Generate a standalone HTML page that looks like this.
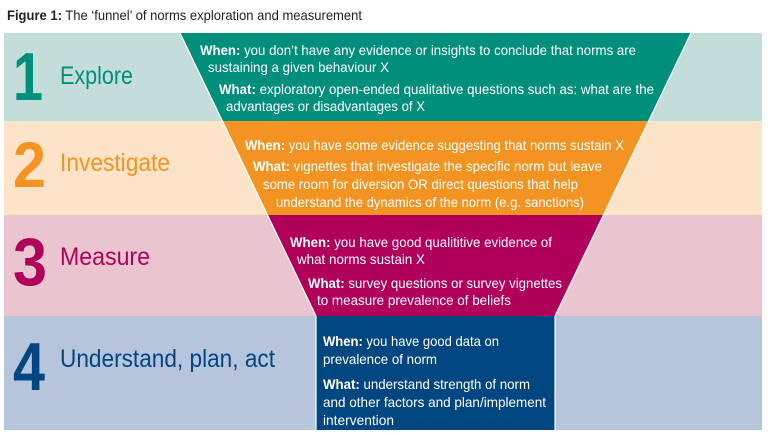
<!DOCTYPE html>
<html><head><meta charset="utf-8"><style>
html,body{margin:0;padding:0;background:#fff;width:772px;height:435px;overflow:hidden}
svg{display:block}
text{font-family:"Liberation Sans Narrow","Liberation Sans",sans-serif}
.w{fill:#fff;font-size:14px}
.b{font-weight:bold}
</style></head><body>
<svg width="772" height="435" viewBox="0 0 772 435" xmlns="http://www.w3.org/2000/svg">
<text x="7" y="20" font-size="14" fill="#222" textLength="355" lengthAdjust="spacingAndGlyphs"><tspan font-weight="bold">Figure 1:</tspan> The ‘funnel’ of norms exploration and measurement</text>
<rect x="4" y="33" width="758" height="88" fill="#c3ded9"/>
<rect x="4" y="121" width="758" height="94" fill="#fde3c8"/>
<rect x="4" y="215" width="758" height="101" fill="#eac5cf"/>
<rect x="4" y="316" width="758" height="114" fill="#b6c4dc"/>
<polygon points="180,33 691,33 648,121 223,121" fill="#008f7a"/>
<polygon points="223,121 648,121 603,215 268,215" fill="#f39422"/>
<polygon points="268,215 603,215 555,316 316,316" fill="#b0005a"/>
<rect x="316" y="316" width="239" height="114" fill="#004680"/>
<g stroke="#fff" stroke-width="1.2" fill="none">
<line x1="180" y1="33" x2="316" y2="316"/><line x1="691" y1="33" x2="555" y2="316"/>
<line x1="316" y1="316" x2="316" y2="430"/><line x1="555" y1="316" x2="555" y2="430"/>
</g>
<g font-weight="bold">
<text x="13" y="100" font-size="68" fill="#008f7a" textLength="30" lengthAdjust="spacingAndGlyphs">1</text>
<text x="13" y="187" font-size="64" fill="#f39422" textLength="33" lengthAdjust="spacingAndGlyphs">2</text>
<text x="13" y="285" font-size="68" fill="#b0005a" textLength="34" lengthAdjust="spacingAndGlyphs">3</text>
<text x="13" y="390" font-size="68" fill="#004680" textLength="32" lengthAdjust="spacingAndGlyphs">4</text>
</g>
<text x="60" y="84" font-size="25" fill="#008f7a" textLength="73" lengthAdjust="spacingAndGlyphs">Explore</text>
<text x="60" y="171" font-size="25" fill="#f39422" textLength="110" lengthAdjust="spacingAndGlyphs">Investigate</text>
<text x="60" y="265" font-size="25" fill="#b0005a" textLength="90" lengthAdjust="spacingAndGlyphs">Measure</text>
<text x="60" y="367" font-size="25" fill="#004680" textLength="215" lengthAdjust="spacingAndGlyphs">Understand, plan, act</text>
<g class="w">
<text x="200" y="55" textLength="436" lengthAdjust="spacingAndGlyphs"><tspan class="b">When:</tspan> you don’t have any evidence or insights to conclude that norms are</text>
<text x="208" y="72" textLength="181" lengthAdjust="spacingAndGlyphs">sustaining a given behaviour X</text>
<text x="219" y="94" textLength="435" lengthAdjust="spacingAndGlyphs"><tspan class="b">What:</tspan> exploratory open-ended qualitative questions such as: what are the</text>
<text x="226" y="111" textLength="199" lengthAdjust="spacingAndGlyphs">advantages or disadvantages of X</text>
<text x="245" y="150" textLength="379" lengthAdjust="spacingAndGlyphs"><tspan class="b">When:</tspan> you have some evidence suggesting that norms sustain X</text>
<text x="253" y="171" textLength="349" lengthAdjust="spacingAndGlyphs"><tspan class="b">What:</tspan> vignettes that investigate the specific norm but leave</text>
<text x="263" y="189" textLength="315" lengthAdjust="spacingAndGlyphs">some room for diversion OR direct questions that help</text>
<text x="276" y="207" textLength="308" lengthAdjust="spacingAndGlyphs">understand the dynamics of the norm (e.g. sanctions)</text>
<text x="290" y="247" textLength="262" lengthAdjust="spacingAndGlyphs"><tspan class="b">When:</tspan> you have good qualititive evidence of</text>
<text x="297" y="264" textLength="128" lengthAdjust="spacingAndGlyphs">what norms sustain X</text>
<text x="308" y="288" textLength="254" lengthAdjust="spacingAndGlyphs"><tspan class="b">What:</tspan> survey questions or survey vignettes</text>
<text x="317" y="305" textLength="194" lengthAdjust="spacingAndGlyphs">to measure prevalence of beliefs</text>
<text x="323" y="346" textLength="176" lengthAdjust="spacingAndGlyphs"><tspan class="b">When:</tspan> you have good data on</text>
<text x="323" y="364" textLength="114" lengthAdjust="spacingAndGlyphs">prevalence of norm</text>
<text x="323" y="389" textLength="207" lengthAdjust="spacingAndGlyphs"><tspan class="b">What:</tspan> understand strength of norm</text>
<text x="323" y="407" textLength="223" lengthAdjust="spacingAndGlyphs">and other factors and plan/implement</text>
<text x="323" y="425" textLength="71" lengthAdjust="spacingAndGlyphs">intervention</text>
</g>
</svg>
</body></html>
